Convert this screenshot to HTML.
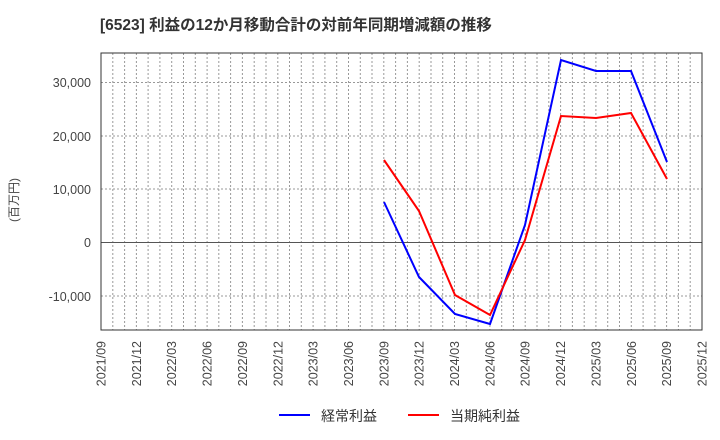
<!DOCTYPE html>
<html><head><meta charset="utf-8"><style>
body{margin:0;background:#fff;}
svg{display:block;font-family:"Liberation Sans","Noto Sans CJK JP",sans-serif;}
</style></head><body>
<svg width="720" height="440" xmlns="http://www.w3.org/2000/svg">
<rect width="720" height="440" fill="#fff"/>
<text x="100" y="30" font-size="15.5" font-weight="bold" fill="#333">[6523]  利益の12か月移動合計の対前年同期増減額の推移</text>
<path fill="none" stroke="#999" stroke-width="1" stroke-dasharray="2,2" d="M112.8 53V330M124.6 53V330M136.4 53V330M148.1 53V330M159.9 53V330M171.7 53V330M183.5 53V330M195.3 53V330M207.1 53V330M218.8 53V330M230.6 53V330M242.4 53V330M254.2 53V330M266 53V330M277.8 53V330M289.5 53V330M301.3 53V330M313.1 53V330M324.9 53V330M336.7 53V330M348.5 53V330M360.3 53V330M372 53V330M383.8 53V330M395.6 53V330M407.4 53V330M419.2 53V330M431 53V330M442.7 53V330M454.5 53V330M466.3 53V330M478.1 53V330M489.9 53V330M501.7 53V330M513.4 53V330M525.2 53V330M537 53V330M548.8 53V330M560.6 53V330M572.4 53V330M584.2 53V330M595.9 53V330M607.7 53V330M619.5 53V330M631.3 53V330M643.1 53V330M654.9 53V330M666.6 53V330M678.4 53V330M690.2 53V330M101 82.5H702M101 136H702M101 189H702M101 296H702"/>
<line x1="101" y1="242.5" x2="702" y2="242.5" stroke="#555" stroke-width="1"/>
<rect x="101" y="53" width="601" height="277" fill="none" stroke="#333" stroke-width="1"/>
<g font-size="12.5" fill="#444" text-anchor="end">
<text x="91" y="87">30,000</text>
<text x="91" y="141">20,000</text>
<text x="91" y="194">10,000</text>
<text x="91" y="247">0</text>
<text x="91" y="301">-10,000</text>
</g>
<text transform="translate(18,200) rotate(-90)" font-size="12" fill="#444" text-anchor="middle">(百万円)</text>
<g font-size="12.5" fill="#444" text-anchor="end">
<text transform="translate(105.5,341) rotate(-90)">2021/09</text>
<text transform="translate(140.9,341) rotate(-90)">2021/12</text>
<text transform="translate(176.2,341) rotate(-90)">2022/03</text>
<text transform="translate(211.6,341) rotate(-90)">2022/06</text>
<text transform="translate(246.9,341) rotate(-90)">2022/09</text>
<text transform="translate(282.3,341) rotate(-90)">2022/12</text>
<text transform="translate(317.6,341) rotate(-90)">2023/03</text>
<text transform="translate(353,341) rotate(-90)">2023/06</text>
<text transform="translate(388.3,341) rotate(-90)">2023/09</text>
<text transform="translate(423.7,341) rotate(-90)">2023/12</text>
<text transform="translate(459,341) rotate(-90)">2024/03</text>
<text transform="translate(494.4,341) rotate(-90)">2024/06</text>
<text transform="translate(529.7,341) rotate(-90)">2024/09</text>
<text transform="translate(565.1,341) rotate(-90)">2024/12</text>
<text transform="translate(600.4,341) rotate(-90)">2025/03</text>
<text transform="translate(635.8,341) rotate(-90)">2025/06</text>
<text transform="translate(671.1,341) rotate(-90)">2025/09</text>
<text transform="translate(706.5,341) rotate(-90)">2025/12</text>
</g>
<polyline fill="none" stroke="#00f" stroke-width="2" points="384,202 419,277 455,314 490,324 525,225 561,60 596,71 631,71 667,162"/>
<polyline fill="none" stroke="#f00" stroke-width="2" points="384,160 419,211 455,295 490,315 525,240 561,116 596,118 631,113 667,179"/>
<line x1="279" y1="415" x2="310" y2="415" stroke="#00f" stroke-width="2"/>
<text x="321" y="421" font-size="14" fill="#333">経常利益</text>
<line x1="408" y1="415" x2="439" y2="415" stroke="#f00" stroke-width="2"/>
<text x="450" y="421" font-size="14" fill="#333">当期純利益</text>
</svg>
</body></html>
